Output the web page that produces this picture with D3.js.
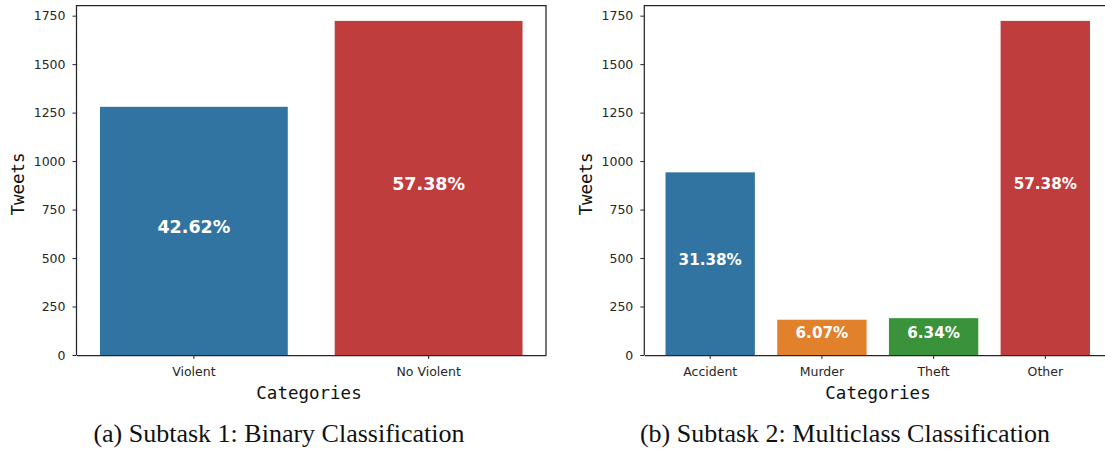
<!DOCTYPE html>
<html>
<head>
<meta charset="utf-8">
<script src="https://cdn.jsdelivr.net/npm/d3@7"></script>
<style>
  body { margin: 0; background: #fff; }
  svg { display: block; }
  .axis text { font-family: "DejaVu Sans", sans-serif; font-size: 12.5px; fill: #262626; }
  .axis path, .axis line { stroke: #262626; }
  .axis-label { font-family: "DejaVu Sans Mono", monospace; font-size: 17.5px; fill: #111; }
  .pct { font-family: "DejaVu Sans", sans-serif; font-weight: bold; fill: #fff; }
  .caption { font-family: "Liberation Serif", "DejaVu Serif", serif; font-size: 26px; fill: #111; }
</style>
</head>
<body>
<svg id="chart"></svg>
<script>
// Subtask 1
const binaryCategories = ['Violent', 'No Violent'];
const binaryCounts = [1280, 1723];
const binaryPercents = ['42.62%', '57.38%'];
const binaryColors = ['#3274a1', '#c03d3e'];

// Subtask 2
const multiCategories = ['Accident', 'Murder', 'Theft', 'Other'];
const multiCounts = [942, 182, 190, 1723];
const multiPercents = ['31.38%', '6.07%', '6.34%', '57.38%'];
const multiColors = ['#3274a1', '#e1812c', '#3a923a', '#c03d3e'];

const yTicks = [0, 250, 500, 750, 1000, 1250, 1500, 1750];
const yMax = 1805;

const svg = d3.select('#chart')
    .attr('width', 1105)
    .attr('height', 450);

class BarPanel {
  constructor(_config, _categories, _counts, _percents, _colors) {
    this.config = _config;
    this.categories = _categories;
    this.counts = _counts;
    this.percents = _percents;
    this.colors = _colors;
    this.initVis();
  }

  initVis() {
    let vis = this;
    const c = vis.config;

    vis.xScale = d3.scaleBand()
        .domain(vis.categories)
        .range([c.left, c.right])
        .paddingInner(0.2)
        .paddingOuter(c.outer);

    vis.yScale = d3.scaleLinear()
        .domain([0, yMax])
        .range([c.bottom, c.top]);

    vis.g = svg.append('g');

    // bars
    vis.g.selectAll('.bar')
        .data(vis.categories)
        .join('rect')
          .attr('class', 'bar')
          .attr('x', d => vis.xScale(d))
          .attr('width', vis.xScale.bandwidth())
          .attr('y', (d, i) => vis.yScale(vis.counts[i]))
          .attr('height', (d, i) => vis.yScale(0) - vis.yScale(vis.counts[i]))
          .attr('fill', (d, i) => vis.colors[i]);

    // percentage labels in the middle of each bar
    vis.g.selectAll('.pct')
        .data(vis.categories)
        .join('text')
          .attr('class', 'pct')
          .attr('x', d => vis.xScale(d) + vis.xScale.bandwidth() / 2)
          .attr('y', (d, i) => vis.yScale(vis.counts[i] / 2) - 4)
          .attr('text-anchor', 'middle')
          .attr('dominant-baseline', 'central')
          .style('font-size', c.pctSize + 'px')
          .text((d, i) => vis.percents[i]);

    // frame (top / right spines)
    vis.g.append('line')
        .attr('x1', c.left).attr('x2', c.right)
        .attr('y1', c.top + 0.5).attr('y2', c.top + 0.5)
        .attr('stroke', '#262626').attr('stroke-width', 1.25);
    vis.g.append('line')
        .attr('x1', c.right).attr('x2', c.right)
        .attr('y1', c.top).attr('y2', c.bottom)
        .attr('stroke', '#262626').attr('stroke-width', 1.25);

    vis.yAxis = d3.axisLeft(vis.yScale)
        .tickValues(yTicks)
        .tickFormat(d3.format('d'))
        .tickSize(4)
        .tickPadding(7)
        .tickSizeOuter(0);
    vis.xAxis = d3.axisBottom(vis.xScale)
        .tickSize(4)
        .tickPadding(8)
        .tickSizeOuter(0);

    vis.g.append('g')
        .attr('class', 'axis')
        .attr('transform', `translate(${c.left},0)`)
        .call(vis.yAxis)
        .call(g => g.select('.domain').attr('stroke-width', 1.25).attr('d', `M0,${c.top}V${c.bottom}`));

    vis.g.append('g')
        .attr('class', 'axis')
        .attr('transform', `translate(0,${c.bottom})`)
        .call(vis.xAxis)
        .call(g => g.select('.domain').attr('stroke-width', 1.25));

    vis.g.append('text')
        .attr('class', 'axis-label')
        .attr('transform', `translate(${c.yLabelX},${(c.top + c.bottom) / 2 + 4}) rotate(-90)`)
        .attr('text-anchor', 'middle')
        .attr('dominant-baseline', 'central')
        .text('Tweets');

    vis.g.append('text')
        .attr('class', 'axis-label')
        .attr('x', c.xLabelX)
        .attr('y', 393)
        .attr('text-anchor', 'middle')
        .attr('dominant-baseline', 'central')
        .text('Categories');

    vis.g.append('text')
        .attr('class', 'caption')
        .attr('x', c.captionX)
        .attr('y', 433)
        .attr('text-anchor', 'middle')
        .attr('dominant-baseline', 'central')
        .text(c.caption);
  }
}

new BarPanel({
  left: 76.5, right: 546, top: 5, bottom: 355, outer: 0.1,
  pctSize: 17.5, yLabelX: 18, xLabelX: 309, captionX: 279,
  caption: '(a) Subtask 1: Binary Classification'
}, binaryCategories, binaryCounts, binaryPercents, binaryColors);

new BarPanel({
  left: 644.3, right: 1111.2, top: 5, bottom: 355, outer: 0.19,
  pctSize: 15.2, yLabelX: 586, xLabelX: 878, captionX: 845,
  caption: '(b) Subtask 2: Multiclass Classification'
}, multiCategories, multiCounts, multiPercents, multiColors);
</script>
</body>
</html>
